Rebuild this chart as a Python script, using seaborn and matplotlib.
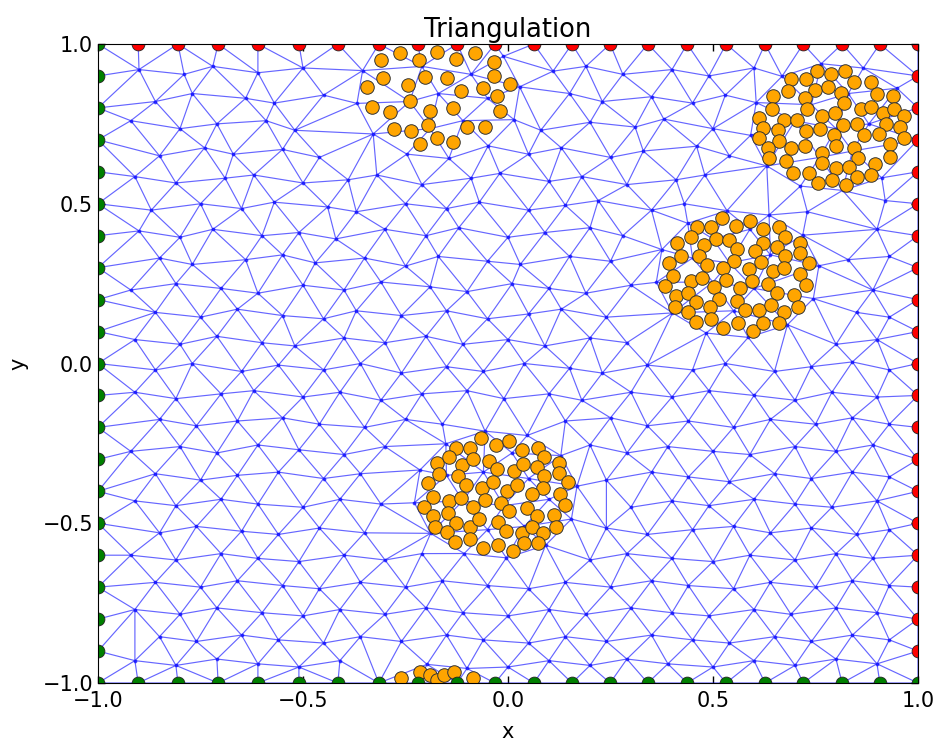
import numpy as np
import pandas as pd
import matplotlib
matplotlib.use("Agg")
import matplotlib.pyplot as plt
import matplotlib.tri as mtri
import seaborn as sns

# ---------------- data ----------------
TITLE = "Triangulation"
X_LABEL = "x"
Y_LABEL = "y"
TICKS = [-1.0, -0.5, 0.0, 0.5, 1.0]

# boundary nodes (red: top + right, green: left + bottom)
TOP_X = [-0.902, -0.805, -0.707, -0.610, -0.510, -0.415, -0.315, -0.220, -0.124, -0.032,
         0.063, 0.156, 0.249, 0.341, 0.437, 0.532, 0.627, 0.720, 0.815, 0.907, 1.0]
RIGHT_Y = [0.9, 0.8, 0.7, 0.6, 0.5, 0.4, 0.3, 0.2, 0.1, 0.0,
           -0.1, -0.2, -0.3, -0.4, -0.5, -0.6, -0.7, -0.8, -0.9]
LEFT_Y = [1.0, 0.9, 0.8, 0.7, 0.6, 0.5, 0.4, 0.3, 0.2, 0.1, 0.0,
          -0.1, -0.2, -0.3, -0.4, -0.5, -0.6, -0.7, -0.8, -0.9, -1.0]
BOTTOM_X = [-0.902, -0.805, -0.707, -0.610, -0.510, -0.415, -0.315, -0.220, -0.124, -0.032,
            0.063, 0.156, 0.249, 0.341, 0.437, 0.532, 0.627, 0.720, 0.815, 0.907, 1.0]

# circular inclusions of the mesh (centre, radius, nodes on the ring)
CIRCLE_CENTERS = [(-0.17, 0.84), (0.79, 0.74), (0.56, 0.28), (-0.03, -0.41), (-0.173, -1.13)]
CIRCLE_RADII = [0.20, 0.20, 0.20, 0.20, 0.19]
RING_NODES = [12, 12, 12, 12, 12]

# interior mesh nodes, row by row
MESH_ROWS = [
    [(-0.90,0.92),(-0.79,0.905),(-0.72,0.93),(-0.61,0.91),(-0.50,0.925),(-0.41,0.90),(-0.30,0.92),(-0.21,0.93),(-0.09,0.905),(-0.02,0.925),(0.11,0.915),(0.19,0.93),(0.28,0.905),(0.40,0.92),(0.49,0.90),(0.60,0.925),(0.69,0.91),(0.81,0.93),(0.90,0.905)],
    [(-0.86,0.82),(-0.77,0.845),(-0.64,0.83),(-0.57,0.815),(-0.45,0.84),(-0.37,0.825),(-0.24,0.82),(-0.17,0.845),(-0.05,0.83),(0.03,0.815),(0.15,0.845),(0.23,0.82),(0.35,0.835),(0.45,0.815),(0.53,0.84),(0.66,0.825),(0.74,0.81),(0.83,0.845),(0.93,0.83)],
    [(-0.92,0.76),(-0.80,0.735),(-0.71,0.75),(-0.59,0.76),(-0.52,0.73),(-0.40,0.755),(-0.32,0.74),(-0.19,0.735),(-0.11,0.76),(0.01,0.745),(0.08,0.73),(0.20,0.755),(0.31,0.74),(0.38,0.765),(0.50,0.735),(0.58,0.75),(0.70,0.76),(0.80,0.735),(0.88,0.75)],
    [(-0.85,0.65),(-0.74,0.675),(-0.67,0.655),(-0.55,0.67),(-0.46,0.645),(-0.35,0.665),(-0.27,0.68),(-0.15,0.65),(-0.06,0.67),(0.05,0.655),(0.13,0.675),(0.25,0.645),(0.33,0.665),(0.46,0.68),(0.54,0.65),(0.63,0.67),(0.76,0.645),(0.84,0.665),(0.94,0.68)],
    [(-0.91,0.585),(-0.81,0.565),(-0.69,0.58),(-0.62,0.59),(-0.50,0.565),(-0.39,0.575),(-0.32,0.59),(-0.21,0.56),(-0.09,0.58),(-0.02,0.595),(0.10,0.57),(0.18,0.585),(0.29,0.56),(0.41,0.575),(0.48,0.59),(0.61,0.565),(0.68,0.58),(0.79,0.595),(0.90,0.57)],
    [(-0.87,0.48),(-0.75,0.50),(-0.65,0.485),(-0.57,0.505),(-0.44,0.49),(-0.37,0.475),(-0.25,0.50),(-0.15,0.485),(-0.07,0.505),(0.05,0.48),(0.14,0.495),(0.22,0.51),(0.35,0.48),(0.43,0.50),(0.55,0.485),(0.65,0.50),(0.73,0.475),(0.85,0.495),(0.92,0.51)],
    [(-0.90,0.415),(-0.80,0.395),(-0.72,0.42),(-0.60,0.40),(-0.51,0.41),(-0.42,0.39),(-0.30,0.42),(-0.20,0.40),(-0.12,0.425),(0.00,0.395),(0.09,0.41),(0.20,0.425),(0.28,0.40),(0.40,0.415),(0.50,0.39),(0.59,0.42),(0.71,0.405),(0.78,0.39),(0.90,0.42)],
    [(-0.85,0.33),(-0.77,0.31),(-0.64,0.325),(-0.55,0.34),(-0.47,0.315),(-0.35,0.33),(-0.25,0.305),(-0.17,0.335),(-0.05,0.32),(0.03,0.31),(0.15,0.335),(0.25,0.32),(0.33,0.305),(0.45,0.33),(0.54,0.315),(0.64,0.34),(0.75,0.31),(0.83,0.325),(0.93,0.335)],
    [(-0.92,0.23),(-0.81,0.25),(-0.70,0.235),(-0.61,0.22),(-0.50,0.245),(-0.40,0.23),(-0.31,0.255),(-0.19,0.24),(-0.10,0.225),(0.01,0.25),(0.10,0.235),(0.19,0.22),(0.30,0.245),(0.39,0.23),(0.50,0.255),(0.60,0.235),(0.70,0.22),(0.79,0.245),(0.89,0.23)],
    [(-0.86,0.16),(-0.75,0.145),(-0.66,0.17),(-0.55,0.15),(-0.45,0.14),(-0.37,0.165),(-0.26,0.15),(-0.15,0.165),(-0.05,0.14),(0.05,0.155),(0.13,0.17),(0.24,0.145),(0.35,0.16),(0.44,0.14),(0.55,0.165),(0.63,0.15),(0.74,0.14),(0.85,0.16),(0.93,0.145)],
    [(-0.91,0.075),(-0.80,0.06),(-0.71,0.085),(-0.60,0.065),(-0.52,0.055),(-0.40,0.08),(-0.30,0.065),(-0.20,0.085),(-0.11,0.06),(0.00,0.075),(0.09,0.055),(0.20,0.08),(0.29,0.065),(0.40,0.085),(0.49,0.06),(0.60,0.07),(0.69,0.085),(0.80,0.06),(0.90,0.075)],
    [(-0.86,-0.02),(-0.77,0.00),(-0.65,-0.025),(-0.56,-0.005),(-0.45,-0.02),(-0.36,0.00),(-0.26,-0.03),(-0.15,-0.01),(-0.06,-0.025),(0.04,0.00),(0.15,-0.015),(0.23,-0.03),(0.34,-0.005),(0.45,-0.02),(0.53,0.00),(0.65,-0.025),(0.74,-0.01),(0.84,0.005),(0.93,-0.02)],
    [(-0.91,-0.09),(-0.81,-0.11),(-0.70,-0.095),(-0.62,-0.085),(-0.50,-0.105),(-0.41,-0.09),(-0.31,-0.115),(-0.21,-0.095),(-0.10,-0.085),(-0.01,-0.11),(0.10,-0.095),(0.18,-0.115),(0.30,-0.09),(0.40,-0.105),(0.49,-0.085),(0.60,-0.10),(0.70,-0.115),(0.79,-0.09),(0.90,-0.105)],
    [(-0.85,-0.175),(-0.76,-0.195),(-0.66,-0.18),(-0.55,-0.17),(-0.46,-0.19),(-0.35,-0.20),(-0.25,-0.175),(-0.16,-0.19),(-0.05,-0.17),(0.04,-0.195),(0.14,-0.18),(0.25,-0.17),(0.34,-0.195),(0.44,-0.18),(0.55,-0.20),(0.64,-0.175),(0.75,-0.19),(0.84,-0.17),(0.93,-0.19)],
    [(-0.92,-0.275),(-0.80,-0.26),(-0.71,-0.28),(-0.61,-0.255),(-0.51,-0.27),(-0.40,-0.285),(-0.30,-0.26),(-0.21,-0.275),(-0.11,-0.255),(0.01,-0.28),(0.09,-0.265),(0.20,-0.255),(0.29,-0.28),(0.39,-0.26),(0.50,-0.275),(0.59,-0.285),(0.70,-0.26),(0.80,-0.275),(0.89,-0.255)],
    [(-0.86,-0.345),(-0.75,-0.365),(-0.66,-0.35),(-0.56,-0.34),(-0.45,-0.36),(-0.36,-0.345),(-0.26,-0.365),(-0.15,-0.35),(-0.06,-0.34),(0.05,-0.36),(0.14,-0.345),(0.24,-0.365),(0.35,-0.34),(0.44,-0.355),(0.54,-0.37),(0.65,-0.345),(0.74,-0.36),(0.84,-0.34),(0.93,-0.355)],
    [(-0.91,-0.43),(-0.81,-0.445),(-0.70,-0.425),(-0.61,-0.44),(-0.50,-0.45),(-0.41,-0.425),(-0.31,-0.44),(-0.20,-0.45),(-0.11,-0.43),(-0.01,-0.445),(0.10,-0.425),(0.19,-0.44),(0.30,-0.45),(0.40,-0.43),(0.49,-0.445),(0.60,-0.425),(0.70,-0.44),(0.79,-0.45),(0.90,-0.43)],
    [(-0.85,-0.53),(-0.76,-0.51),(-0.65,-0.525),(-0.56,-0.535),(-0.46,-0.515),(-0.35,-0.53),(-0.26,-0.51),(-0.16,-0.535),(-0.05,-0.52),(0.04,-0.51),(0.15,-0.53),(0.24,-0.515),(0.34,-0.535),(0.45,-0.52),(0.55,-0.51),(0.64,-0.53),(0.74,-0.515),(0.85,-0.535),(0.93,-0.52)],
    [(-0.92,-0.60),(-0.81,-0.615),(-0.70,-0.595),(-0.61,-0.61),(-0.51,-0.62),(-0.40,-0.60),(-0.30,-0.615),(-0.21,-0.595),(-0.10,-0.61),(0.00,-0.62),(0.10,-0.60),(0.20,-0.615),(0.29,-0.595),(0.40,-0.61),(0.50,-0.62),(0.59,-0.60),(0.70,-0.615),(0.80,-0.595),(0.89,-0.61)],
    [(-0.86,-0.685),(-0.75,-0.70),(-0.66,-0.68),(-0.55,-0.695),(-0.46,-0.705),(-0.36,-0.685),(-0.25,-0.70),(-0.16,-0.68),(-0.05,-0.695),(0.05,-0.705),(0.14,-0.685),(0.25,-0.70),(0.35,-0.68),(0.44,-0.695),(0.55,-0.705),(0.64,-0.685),(0.75,-0.70),(0.84,-0.68),(0.93,-0.695)],
    [(-0.91,-0.77),(-0.80,-0.785),(-0.71,-0.765),(-0.60,-0.78),(-0.50,-0.79),(-0.41,-0.77),(-0.30,-0.785),(-0.20,-0.765),(-0.11,-0.78),(0.00,-0.79),(0.10,-0.77),(0.19,-0.785),(0.30,-0.765),(0.40,-0.78),(0.49,-0.79),(0.60,-0.77),(0.69,-0.785),(0.80,-0.765),(0.90,-0.78)],
    [(-0.85,-0.855),(-0.76,-0.87),(-0.65,-0.85),(-0.56,-0.865),(-0.45,-0.875),(-0.36,-0.855),(-0.26,-0.87),(-0.15,-0.85),(-0.06,-0.865),(0.05,-0.875),(0.14,-0.855),(0.24,-0.87),(0.35,-0.85),(0.45,-0.865),(0.54,-0.875),(0.65,-0.855),(0.74,-0.87),(0.84,-0.85),(0.93,-0.865)],
    [(-0.91,-0.93),(-0.81,-0.945),(-0.71,-0.925),(-0.61,-0.94),(-0.51,-0.95),(-0.41,-0.93),(-0.31,-0.945),(-0.20,-0.925),(-0.10,-0.94),(0.00,-0.95),(0.10,-0.93),(0.20,-0.945),(0.29,-0.925),(0.39,-0.94),(0.50,-0.95),(0.60,-0.93),(0.70,-0.945),(0.80,-0.925),(0.90,-0.94)],
]

# orange particles, one list per cluster
PARTICLES_A = [(-0.263,0.973),(-0.216,0.950),(-0.172,0.976),(-0.126,0.952),(-0.080,0.971),(-0.033,0.945),(-0.310,0.950),
               (-0.304,0.893),(-0.245,0.872),(-0.202,0.898),(-0.148,0.893),(-0.115,0.853),(-0.061,0.861),(-0.034,0.901),(0.005,0.874),(-0.343,0.864),
               (-0.239,0.822),(-0.190,0.790),(-0.133,0.799),(-0.027,0.837),(-0.019,0.791),(-0.332,0.804),(-0.287,0.788),
               (-0.279,0.735),(-0.237,0.728),(-0.196,0.747),(-0.099,0.741),(-0.056,0.741),(-0.174,0.707),(-0.133,0.694),(-0.214,0.686)]
PARTICLES_B = [(0.753,0.916),(0.787,0.906),(0.823,0.916),(0.690,0.889),(0.727,0.892),(0.844,0.881),(0.885,0.881),
               (0.647,0.837),(0.684,0.853),(0.749,0.856),(0.781,0.864),(0.812,0.847),(0.901,0.845),(0.938,0.837),
               (0.645,0.795),(0.725,0.832),(0.730,0.795),(0.819,0.816),(0.860,0.795),(0.885,0.804),(0.914,0.785),(0.942,0.798),(0.966,0.774),
               (0.613,0.769),(0.673,0.762),(0.706,0.762),(0.765,0.774),(0.797,0.783),(0.922,0.751),(0.955,0.741),
               (0.623,0.738),(0.659,0.731),(0.727,0.727),(0.761,0.734),(0.816,0.747),(0.851,0.751),(0.611,0.705),(0.661,0.697),
               (0.794,0.715),(0.868,0.714),(0.904,0.718),(0.967,0.705),
               (0.633,0.676),(0.690,0.673),(0.725,0.681),(0.800,0.681),(0.844,0.673),(0.932,0.686),(0.765,0.658),
               (0.637,0.642),(0.677,0.634),(0.765,0.626),(0.854,0.642),(0.932,0.645),
               (0.694,0.597),(0.733,0.597),(0.800,0.611),(0.831,0.614),(0.894,0.624),(0.756,0.564),(0.790,0.573),(0.825,0.560),(0.851,0.585),(0.886,0.589)]
PARTICLES_C = [(0.523,0.454),(0.590,0.447),(0.460,0.428),(0.495,0.426),(0.556,0.431),(0.623,0.420),(0.662,0.426),
               (0.446,0.395),(0.507,0.390),(0.540,0.387),(0.676,0.395),(0.411,0.378),(0.478,0.372),(0.558,0.359),(0.623,0.376),(0.657,0.366),(0.711,0.378),
               (0.422,0.338),(0.465,0.337),(0.603,0.353),(0.676,0.338),(0.711,0.347),(0.393,0.316),(0.485,0.309),(0.550,0.322),(0.616,0.318),(0.735,0.316),
               (0.525,0.300),(0.589,0.297),(0.647,0.291),(0.673,0.300),(0.712,0.280),(0.403,0.274),(0.446,0.257),(0.472,0.268),(0.532,0.262),(0.595,0.257),(0.635,0.249),(0.727,0.245),(0.383,0.243),
               (0.502,0.239),(0.566,0.235),(0.655,0.220),(0.698,0.215),(0.410,0.212),(0.440,0.220),(0.515,0.201),(0.558,0.197),(0.459,0.191),
               (0.408,0.176),(0.493,0.178),(0.579,0.168),(0.612,0.168),(0.642,0.183),(0.673,0.160),(0.708,0.176),(0.440,0.162),
               (0.459,0.131),(0.496,0.140),(0.525,0.112),(0.562,0.126),(0.597,0.103),(0.623,0.126),(0.661,0.126)]
PARTICLES_D = [(-0.066,-0.234),(-0.127,-0.263),(-0.093,-0.263),(-0.029,-0.255),(0.003,-0.242),(0.033,-0.271),(0.074,-0.263),
               (-0.174,-0.311),(-0.143,-0.294),(-0.112,-0.318),(-0.085,-0.300),(-0.046,-0.304),(0.089,-0.294),(0.125,-0.311),
               (-0.168,-0.346),(-0.121,-0.351),(-0.028,-0.331),(0.014,-0.335),(0.036,-0.313),(0.070,-0.323),(0.089,-0.352),(0.124,-0.342),(0.147,-0.370),
               (-0.194,-0.375),(-0.102,-0.380),(-0.064,-0.389),(-0.036,-0.372),(-0.002,-0.398),(0.023,-0.380),(0.086,-0.389),(0.058,-0.409),(0.127,-0.409),
               (-0.182,-0.417),(-0.144,-0.430),(-0.115,-0.422),(-0.056,-0.427),(-0.018,-0.436),(0.139,-0.443),(-0.204,-0.450),
               (-0.146,-0.467),(-0.085,-0.448),(0.002,-0.461),(0.047,-0.453),(0.070,-0.477),(0.111,-0.474),(-0.182,-0.477),
               (-0.178,-0.513),(-0.127,-0.498),(-0.093,-0.511),(-0.071,-0.488),(-0.024,-0.497),(-0.005,-0.525),(0.034,-0.529),(0.058,-0.511),(0.086,-0.532),(0.117,-0.513),(-0.148,-0.526),
               (-0.129,-0.558),(-0.093,-0.549),(-0.062,-0.577),(-0.024,-0.568),(0.011,-0.586),(0.039,-0.563),(0.073,-0.563)]
PARTICLES_E = [(-0.261,-0.985),(-0.215,-0.965),(-0.190,-0.975),(-0.172,-0.991),(-0.156,-0.975),(-0.131,-0.965),(-0.085,-0.985)]

# ---------------- build the mesh ----------------
boundary_red = [(x, 1.0) for x in TOP_X] + [(1.0, y) for y in RIGHT_Y]
boundary_green = [(-1.0, y) for y in LEFT_Y] + [(x, -1.0) for x in BOTTOM_X]

interior = np.array([p for row in MESH_ROWS for p in row])
keep = np.ones(len(interior), dtype=bool)
ring_pts = []
for (cx, cy), r, n in zip(CIRCLE_CENTERS, CIRCLE_RADII, RING_NODES):
    d = np.hypot(interior[:, 0] - cx, interior[:, 1] - cy)
    keep &= np.abs(d - r) > 0.055
    ang = np.arange(n) * 2 * np.pi / n + 0.13
    px, py = cx + r * np.cos(ang), cy + r * np.sin(ang)
    ok = (np.abs(px) < 0.96) & (np.abs(py) < 0.965)
    ring_pts += list(zip(px[ok], py[ok]))
interior = interior[keep]

nodes = np.vstack([np.array(boundary_red), np.array(boundary_green), interior, np.array(ring_pts)])
nodes = np.unique(np.round(nodes, 4), axis=0)
tri = mtri.Triangulation(nodes[:, 0], nodes[:, 1])

# ---------------- plot ----------------
sns.set_style("ticks", {"xtick.direction": "in", "ytick.direction": "in",
                        "axes.edgecolor": "black", "axes.linewidth": 1.0,
                        "text.color": "black", "axes.labelcolor": "black",
                        "xtick.color": "black", "ytick.color": "black"})
plt.rcParams["font.family"] = ["DejaVu Sans"]
plt.rcParams["xtick.top"] = True
plt.rcParams["ytick.right"] = True

fig = plt.figure(figsize=(9.38, 7.45), dpi=100)
ax = fig.add_axes([98 / 938, 62 / 745, 820 / 938, 639 / 745])

ax.triplot(tri, color="blue", marker=".", markersize=3.5, linewidth=0.85, alpha=0.6, zorder=1)

part = pd.concat([pd.DataFrame(p, columns=["x", "y"]).assign(cluster=k)
                  for k, p in zip("ABCDE", [PARTICLES_A, PARTICLES_B, PARTICLES_C, PARTICLES_D, PARTICLES_E])])
sns.scatterplot(data=part, x="x", y="y", color="orange", s=95, edgecolor="#333333",
                linewidth=0.7, ax=ax, zorder=3, legend=False, clip_on=True)

red = pd.DataFrame(boundary_red, columns=["x", "y"])
green = pd.DataFrame(boundary_green, columns=["x", "y"])
sns.scatterplot(data=red, x="x", y="y", color="red", s=85, edgecolor="#222222",
                linewidth=0.6, ax=ax, zorder=4, legend=False, clip_on=True)
sns.scatterplot(data=green, x="x", y="y", color="green", s=85, edgecolor="#222222",
                linewidth=0.6, ax=ax, zorder=4, legend=False, clip_on=True)
for coll in ax.collections:
    coll.set_clip_on(True)
    coll.set_clip_path(ax.patch)

ax.set_xlim(-1, 1)
ax.set_ylim(-1, 1)
ax.set_xticks(TICKS)
ax.set_yticks(TICKS)
ax.tick_params(labelsize=15, length=5, width=1, colors="black")
ax.tick_params(axis="x", pad=6)
ax.set_xlabel(X_LABEL, fontsize=15, labelpad=8, color="black")
ax.set_ylabel(Y_LABEL, fontsize=15, labelpad=10, color="black")
ax.set_title(TITLE, fontsize=18.5, color="black", pad=5)
for s in ax.spines.values():
    s.set_visible(True)
    s.set_color("black")
    s.set_zorder(5)

fig.savefig("out.png", dpi=100)
